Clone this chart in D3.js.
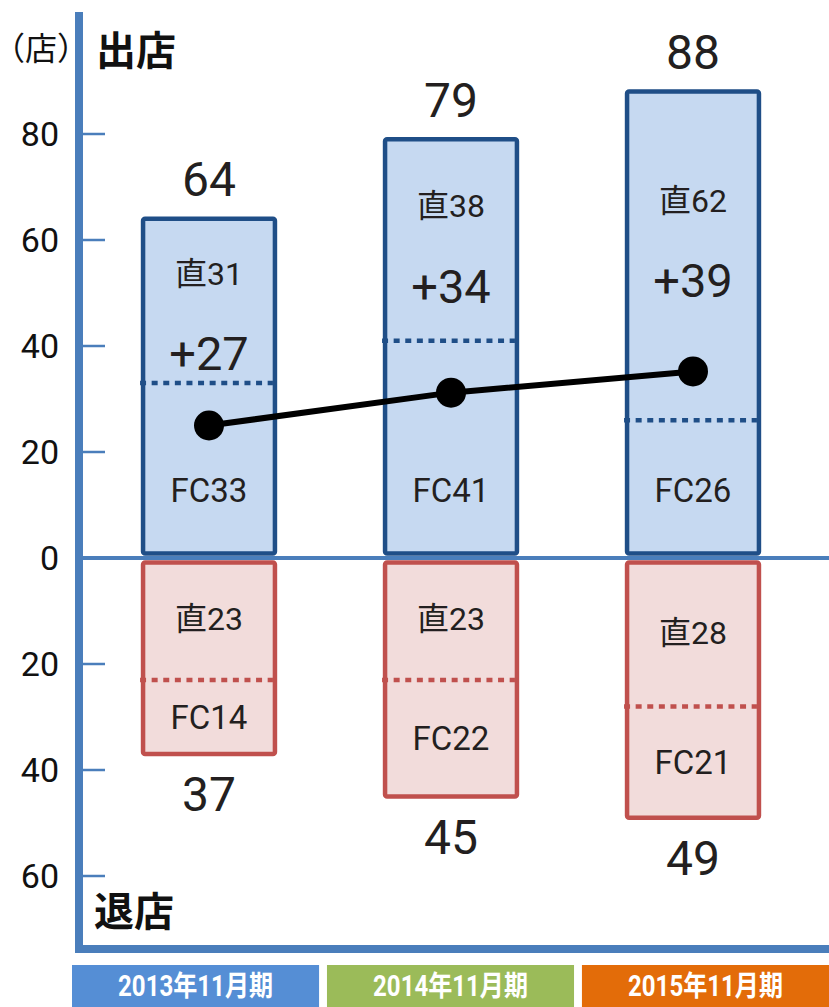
<!DOCTYPE html>
<html lang="ja">
<head>
<meta charset="utf-8">
<script src="https://cdn.jsdelivr.net/npm/d3@7"></script>
<style>
  html, body { margin: 0; padding: 0; background: #fff; }
  svg { display: block; }
</style>
</head>
<body>
<script>
// Store openings (出店) and closures (退店) per fiscal year
const categories   = ["2013年11月期", "2014年11月期", "2015年11月期"];
const openDirect   = [31, 38, 62];
const openFC       = [33, 41, 26];
const openTotal    = [64, 79, 88];
const closeDirect  = [23, 23, 28];
const closeFC      = [14, 22, 21];
const closeTotal   = [37, 45, 49];
const netChange    = [27, 34, 39];
const trendValues  = [25, 31.2, 35.2];
const tickValues   = [80, 60, 40, 20, 0, -20, -40, -60];
const yearColors   = ["#558ED5", "#9BBB59", "#E36C09"];

const W = 829, H = 1007;
const axisColor = "#4A7EBB";
const textColor = "#231F20";
const numFont = "Roboto, 'Noto Sans CJK JP', sans-serif";
const jpFont = "'Noto Sans CJK JP', 'Noto Sans', sans-serif";

const svg = d3.select("body").append("svg")
  .attr("width", W).attr("height", H);

const y = d3.scaleLinear().domain([-60, 80]).range([876, 134]);
const x = d3.scaleBand().domain(categories).range([88, 814])
  .paddingInner(0.455).paddingOuter(0.2275);
const xYear = d3.scaleBand().domain(categories).range([72, 829])
  .paddingInner(0.031).paddingOuter(0);

const y0 = y(0);
const bw = x.bandwidth();
const cx = d => x(d) + bw / 2;

// Bars: openings above zero, closures below
const rows = categories.map((c, i) => ({
  c, i,
  oD: openDirect[i], oF: openFC[i], oT: openTotal[i],
  cD: closeDirect[i], cF: closeFC[i], cT: closeTotal[i],
  net: netChange[i], trend: trendValues[i]
}));

const gBars = svg.append("g");
gBars.selectAll("rect.up").data(rows).join("rect")
  .attr("class", "up")
  .attr("x", d => x(d.c)).attr("width", bw)
  .attr("y", d => y(d.oT))
  .attr("height", d => (y0 - 4.5) - y(d.oT))
  .attr("rx", 2)
  .attr("fill", "#C6D9F1").attr("stroke", "#1F4E87").attr("stroke-width", 4.5);

gBars.selectAll("rect.down").data(rows).join("rect")
  .attr("class", "down")
  .attr("x", d => x(d.c)).attr("width", bw)
  .attr("y", y0 + 4.5)
  .attr("height", d => y(-d.cT) - (y0 + 4.5))
  .attr("rx", 2)
  .attr("fill", "#F2DCDB").attr("stroke", "#C0504D").attr("stroke-width", 4.5);

// Dotted dividers between direct (直) and franchise (FC) parts
gBars.selectAll("line.upDiv").data(rows).join("line")
  .attr("x1", d => x(d.c) - 3).attr("x2", d => x(d.c) + bw - 2)
  .attr("y1", d => y(d.oF)).attr("y2", d => y(d.oF))
  .attr("stroke", "#1F4E87").attr("stroke-width", 4.5)
  .attr("stroke-dasharray", "6,5.6");

gBars.selectAll("line.downDiv").data(rows).join("line")
  .attr("x1", d => x(d.c) - 3).attr("x2", d => x(d.c) + bw - 2)
  .attr("y1", d => y(-d.cD)).attr("y2", d => y(-d.cD))
  .attr("stroke", "#C0504D").attr("stroke-width", 4.5)
  .attr("stroke-dasharray", "6,5.6");

// Labels
const gLab = svg.append("g").attr("fill", textColor).attr("text-anchor", "middle");
function label(sel, yFn, textFn, size, font) {
  sel.append("g").selectAll("text").data(rows).join("text")
    .attr("x", d => cx(d.c))
    .attr("y", yFn)
    .attr("dy", "0.36em")
    .style("font-family", font || numFont)
    .style("font-size", size + "px")
    .text(textFn);
}
const directLabelY = d => y(d.oT) + 0.33 * (y(d.oF) - y(d.oT));
label(gLab, d => y(d.oT) - 40, d => d.oT, 48);
label(gLab, directLabelY, d => "直" + d.oD, 32);
label(gLab, d => directLabelY(d) + 80, d => "+" + d.net, 47);
label(gLab, () => y0 - 68, d => "FC" + d.oF, 33);
label(gLab, d => (y0 + y(-d.cD)) / 2, d => "直" + d.cD, 32);
label(gLab, d => (y(-d.cD) + y(-d.cT)) / 2, d => "FC" + d.cF, 33);
label(gLab, d => y(-d.cT) + 40, d => d.cT, 48);

// Zero baseline
svg.append("line")
  .attr("x1", 83).attr("x2", W).attr("y1", y0).attr("y2", y0)
  .attr("stroke", axisColor).attr("stroke-width", 4);

// Left axis with absolute-value ticks, and bottom frame
const gAxis = svg.append("g");
gAxis.selectAll("line.tick").data(tickValues.filter(v => v !== 0)).join("line")
  .attr("x1", 83).attr("x2", 105)
  .attr("y1", d => y(d)).attr("y2", d => y(d))
  .attr("stroke", axisColor).attr("stroke-width", 2.5);
gAxis.selectAll("text").data(tickValues).join("text")
  .attr("x", 59).attr("y", d => y(d)).attr("dy", "0.36em")
  .attr("text-anchor", "end")
  .attr("fill", "#111")
  .style("font-family", numFont).style("font-size", "34px")
  .text(d => Math.abs(d));
gAxis.append("line")
  .attr("x1", 79).attr("x2", 79).attr("y1", 12).attr("y2", 953)
  .attr("stroke", axisColor).attr("stroke-width", 8);
gAxis.append("line")
  .attr("x1", 75).attr("x2", W).attr("y1", 949).attr("y2", 949)
  .attr("stroke", axisColor).attr("stroke-width", 8);

// Trend line with markers
const line = d3.line().x(d => cx(d.c)).y(d => y(d.trend));
svg.append("path").datum(rows)
  .attr("d", line).attr("fill", "none")
  .attr("stroke", "#000").attr("stroke-width", 6);
svg.append("g").selectAll("circle").data(rows).join("circle")
  .attr("cx", d => cx(d.c)).attr("cy", d => y(d.trend)).attr("r", 15)
  .attr("fill", "#000");

// Unit and section headings
svg.append("text").attr("x", 41).attr("y", 48).attr("dy", "0.36em")
  .attr("text-anchor", "middle").attr("fill", "#111")
  .style("font-family", jpFont).style("font-size", "32px")
  .style("font-feature-settings", "'halt' 1")
  .text("（店）");
svg.append("text").attr("x", 136).attr("y", 51).attr("dy", "0.36em")
  .attr("text-anchor", "middle").attr("fill", "#111")
  .style("font-family", jpFont).style("font-size", "40px").style("font-weight", 700)
  .text("出店");
svg.append("text").attr("x", 134).attr("y", 912).attr("dy", "0.36em")
  .attr("text-anchor", "middle").attr("fill", "#111")
  .style("font-family", jpFont).style("font-size", "40px").style("font-weight", 700)
  .text("退店");

// Fiscal-year category boxes
const gYear = svg.append("g");
gYear.selectAll("rect").data(categories).join("rect")
  .attr("x", d => xYear(d)).attr("width", xYear.bandwidth())
  .attr("y", 965).attr("height", 42)
  .attr("fill", (d, i) => yearColors[i]);
gYear.selectAll("text").data(categories).join("text")
  .attr("transform", d => `translate(${xYear(d) + xYear.bandwidth() / 2},986) scale(0.83,1)`)
  .attr("dy", "0.36em")
  .attr("text-anchor", "middle").attr("fill", "#fff")
  .style("font-family", numFont).style("font-size", "29px").style("font-weight", 700)
  .text(d => d);
</script>
</body>
</html>
